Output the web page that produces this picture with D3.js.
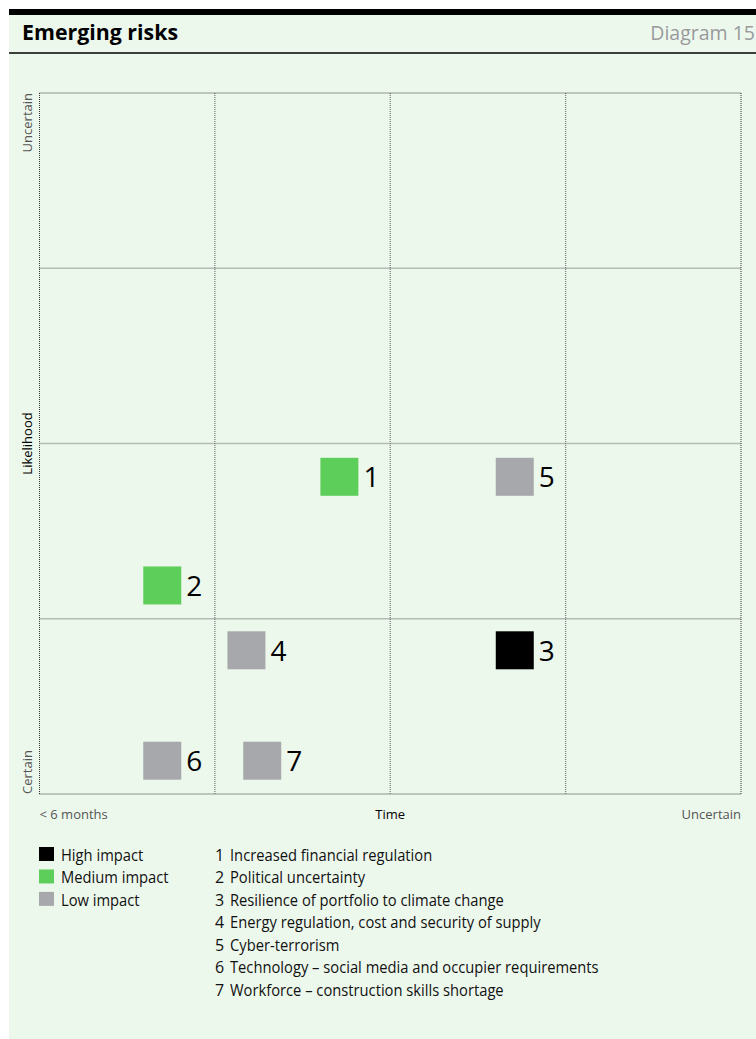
<!DOCTYPE html>
<html>
<head>
<meta charset="utf-8">
<script src="https://cdn.jsdelivr.net/npm/d3@7"></script>
<style>
  html, body { margin: 0; padding: 0; background: #ffffff; }
  svg { display: block; font-family: "Open Sans", "Noto Sans", sans-serif; }
</style>
</head>
<body>
<svg id="chart" width="756" height="1039"></svg>
<script>
// ---- data ----
const titleText = "Emerging risks";
const diagramLabel = "Diagram 15";
const gridTicks = [0, 1, 2, 3, 4];
const riskIds = [1, 2, 3, 4, 5, 6, 7];
const riskTime = [1.71, 0.70, 2.71, 1.18, 2.71, 0.70, 1.27];
const riskLikelihood = [1.81, 1.19, 0.82, 0.82, 1.81, 0.19, 0.19];
const riskImpact = ["Medium", "Medium", "High", "Low", "Low", "Low", "Low"];
const riskNames = [
  "Increased financial regulation",
  "Political uncertainty",
  "Resilience of portfolio to climate change",
  "Energy regulation, cost and security of supply",
  "Cyber-terrorism",
  "Technology \u2013 social media and occupier requirements",
  "Workforce \u2013 construction skills shortage"
];
const impactLevels = ["High", "Medium", "Low"];
const impactLabels = ["High impact", "Medium impact", "Low impact"];
const impactColors = ["#000000", "#5ece5a", "#a7a8ab"];
const xAxisLabels = ["< 6 months", "Time", "Uncertain"];
const yAxisLabels = ["Certain", "Likelihood", "Uncertain"];

// ---- layout ----
const svg = d3.select("#chart");
const W = 756, H = 1039;
const bg = "#edf8ed";

svg.append("rect").attr("x", 9).attr("y", 9).attr("width", W - 9).attr("height", H - 9).attr("fill", bg);
svg.append("rect").attr("x", 9).attr("y", 9).attr("width", W - 9).attr("height", 6).attr("fill", "#000");
svg.append("line").attr("x1", 9).attr("x2", W).attr("y1", 53).attr("y2", 53)
  .attr("stroke", "#000").attr("stroke-width", 1.5);

svg.append("text").attr("x", 22).attr("y", 40).attr("font-size", 21).attr("font-weight", 700)
  .attr("fill", "#000").attr("textLength", 156).attr("lengthAdjust", "spacingAndGlyphs").text(titleText);
svg.append("text").attr("x", 755).attr("y", 39.5).attr("font-size", 19.5).attr("text-anchor", "end")
  .attr("fill", "#999a9c").text(diagramLabel);

const x = d3.scaleLinear().domain([0, 4]).range([39.5, 741]);
const y = d3.scaleLinear().domain([0, 4]).range([794, 93]);

const colorScale = d3.scaleOrdinal().domain(impactLevels).range(impactColors);

// grid
const grid = svg.append("g");
gridTicks.forEach(t => {
  const outer = (t === 0 || t === 4);
  grid.append("line").attr("x1", x(t)).attr("x2", x(t)).attr("y1", y(0)).attr("y2", y(4))
    .attr("stroke", outer ? "#333" : "#7c7e7c").attr("stroke-width", outer ? 1 : 1.3)
    .attr("stroke-dasharray", "1,1");
  grid.append("line").attr("y1", y(t)).attr("y2", y(t)).attr("x1", x(0)).attr("x2", x(4))
    .attr("stroke", outer ? "#333" : "#7c7e7c").attr("stroke-width", outer ? 1 : 1.3)
    .attr("stroke-dasharray", "1,1");
});

// condense helper: shrink text horizontally to match the narrow reference face
function condense(sel, f) {
  sel.each(function () {
    const n = this.getComputedTextLength();
    d3.select(this).attr("textLength", n * f).attr("lengthAdjust", "spacingAndGlyphs");
  });
}

// axis labels
const axisFs = 13;
const axG = svg.append("g");
axG.append("text").attr("x", x(0)).attr("y", 819).attr("font-size", axisFs).attr("fill", "#555")
  .text(xAxisLabels[0]);
axG.append("text").attr("x", x(2)).attr("y", 819).attr("font-size", axisFs).attr("fill", "#000")
  .attr("text-anchor", "middle").text(xAxisLabels[1]);
axG.append("text").attr("x", x(4)).attr("y", 819).attr("font-size", axisFs).attr("fill", "#555")
  .attr("text-anchor", "end").text(xAxisLabels[2]);

const yl = [[y(0), "start", "#555"], [y(2), "middle", "#000"], [y(4), "end", "#555"]];
yl.forEach((d, i) => {
  axG.append("text").attr("transform", `translate(31.5,${d[0]}) rotate(-90)`)
    .attr("font-size", axisFs).attr("fill", d[2])
    .attr("text-anchor", d[1]).text(yAxisLabels[i]);
});

// markers
const sq = 38;
const risks = riskIds.map((id, i) => ({ id, t: riskTime[i], l: riskLikelihood[i], impact: riskImpact[i] }));
const mk = svg.append("g").selectAll("g").data(risks).join("g")
  .attr("transform", d => `translate(${x(d.t)},${y(d.l)})`);
mk.append("rect").attr("x", -sq / 2).attr("y", -sq / 2).attr("width", sq).attr("height", sq)
  .attr("fill", d => colorScale(d.impact));
mk.append("text").attr("x", sq / 2 + 5).attr("y", 10.5).attr("font-size", 28).attr("fill", "#000")
  .text(d => d.id);

// legend
const legFs = 16;
const legY0 = 861, legStep = 22.45;
const leg = svg.append("g");
impactLabels.forEach((lab, i) => {
  leg.append("rect").attr("x", 39).attr("y", legY0 + i * legStep - 14).attr("width", 15).attr("height", 14)
    .attr("fill", colorScale(impactLevels[i]));
  leg.append("text").attr("class", "lt").attr("x", 61).attr("y", legY0 + i * legStep).attr("font-size", legFs)
    .attr("fill", "#111").text(lab);
});
riskIds.forEach((id, i) => {
  leg.append("text").attr("x", 215).attr("y", legY0 + i * legStep).attr("font-size", legFs)
    .attr("fill", "#111").text(id);
  leg.append("text").attr("class", "lt").attr("x", 230).attr("y", legY0 + i * legStep).attr("font-size", legFs)
    .attr("fill", "#111").text(riskNames[i]);
});
condense(leg.selectAll("text.lt"), 0.92);
</script>
</body>
</html>
